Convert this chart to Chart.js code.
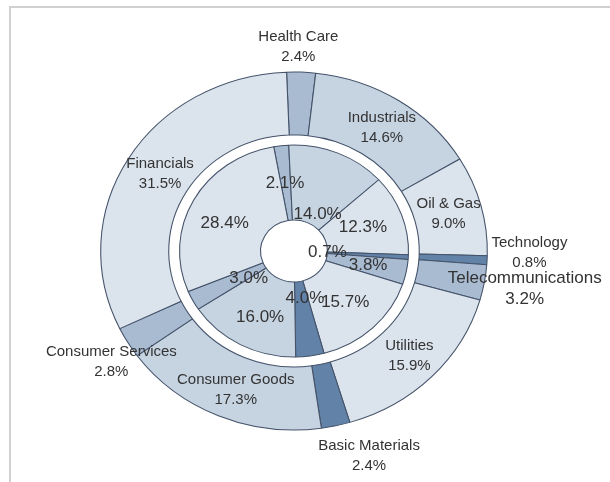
<!DOCTYPE html>
<html>
<head>
<meta charset="utf-8">
<script src="https://cdn.jsdelivr.net/npm/chart.js@4.4.1/dist/chart.umd.min.js"></script>
<style>
html, body { margin: 0; padding: 0; background: #fff; }
#wrap { position: relative; width: 610px; height: 482px; overflow: hidden; }
#frame { position: absolute; left: 9px; top: 6px; right: -4px; bottom: -4px;
  border-top: 2px solid #d0d0d0; border-left: 2px solid #d0d0d0; }
canvas { position: absolute; left: 0; top: 0; }
</style>
</head>
<body>
<div id="wrap">
  <div id="frame"></div>
  <canvas id="pie" width="610" height="482"></canvas>
</div>
<script>
// sectors, clockwise from the top
var sectors = ["Health Care", "Industrials", "Oil & Gas", "Technology", "Telecommunications",
  "Utilities", "Basic Materials", "Consumer Goods", "Consumer Services", "Financials"];
// outer ring (%)
var outerValues = [2.4, 14.6, 9.0, 0.8, 3.2, 15.9, 2.4, 17.3, 2.8, 31.5];
// inner ring (%)
var innerValues = [2.1, 14.0, 12.3, 0.7, 3.8, 15.7, 4.0, 16.0, 3.0, 28.4];

// colours per sector
var shades = ["#a9bbd1", "#c6d3e1", "#dbe3ec", "#6282a8", "#a9bbd1",
  "#dbe3ec", "#6282a8", "#c6d3e1", "#a9bbd1", "#dbe3ec"];

// label placement: radius (px) and angle nudge (deg)
var outerLabelR = [204, 148, 148, 218, 217, 150, 216, 149, 202, 146];
var outerLabelShift = [-1, 0.6, 0, -2.5, 0, 0, -6.3, -1.8, -2.4, 0.8];
var innerLabelR = [68, 43, 68, 31, 70, 70, 48, 73, 50, 70];
var innerLabelShift = [-0.6, 8, 0, -1.5, 0, 0.8, -4.2, -2.5, -5.2, -5.1];

var sx = 1.08; // the picture is a little wider than tall

function fmt(v) { return v.toFixed(1) + "%"; }

var stretch = {
  id: "stretch",
  beforeDatasetsDraw: function (chart) {
    var c = chart.getDatasetMeta(0).data[0];
    var ctx = chart.ctx;
    ctx.save();
    ctx.translate(c.x, 0);
    ctx.scale(sx, 1);
    ctx.translate(-c.x, 0);
  },
  afterDatasetsDraw: function (chart) {
    chart.ctx.restore();
  }
};

function labelAt(arc, r, shift) {
  var a = (arc.startAngle + arc.endAngle) / 2 + shift * Math.PI / 180;
  return { x: arc.x + sx * r * Math.cos(a), y: arc.y + r * Math.sin(a) };
}

var labels = {
  id: "labels",
  afterDraw: function (chart) {
    var ctx = chart.ctx;
    ctx.save();
    ctx.fillStyle = "#333";
    ctx.textAlign = "center";
    ctx.textBaseline = "middle";
    chart.getDatasetMeta(0).data.forEach(function (arc, i) {
      var p = labelAt(arc, outerLabelR[i], outerLabelShift[i]);
      var big = sectors[i] === "Telecommunications";
      var size = big ? 17 : 15;
      var gap = big ? 10.5 : 10;
      ctx.font = size + "px 'Liberation Sans', Arial, sans-serif";
      ctx.fillText(sectors[i], p.x, p.y - gap);
      ctx.fillText(fmt(outerValues[i]), p.x, p.y + gap);
    });
    ctx.font = "17px 'Liberation Sans', Arial, sans-serif";
    chart.getDatasetMeta(2).data.forEach(function (arc, i) {
      var p = labelAt(arc, innerLabelR[i], innerLabelShift[i]);
      ctx.fillText(fmt(innerValues[i]), p.x, p.y);
    });
    ctx.restore();
  }
};

new Chart(document.getElementById("pie"), {
  type: "doughnut",
  data: {
    labels: sectors,
    datasets: [
      {
        data: outerValues,
        backgroundColor: shades,
        borderColor: "#44536a",
        borderWidth: 1,
        rotation: -2.2,
        weight: 63
      },
      {
        // white gap between the rings
        data: [100],
        backgroundColor: "rgba(0,0,0,0)",
        borderWidth: 0,
        weight: 10
      },
      {
        data: innerValues,
        backgroundColor: shades,
        borderColor: "#44536a",
        borderWidth: 1,
        rotation: -10.2,
        weight: 75
      }
    ]
  },
  options: {
    responsive: false,
    animation: false,
    radius: 179,
    cutout: "17.3%",
    hoverOffset: 0,
    layout: { padding: { left: 0, right: 22, top: 20, bottom: 0 } },
    plugins: {
      legend: { display: false },
      tooltip: { enabled: false }
    }
  },
  plugins: [stretch, labels]
});
</script>
</body>
</html>
